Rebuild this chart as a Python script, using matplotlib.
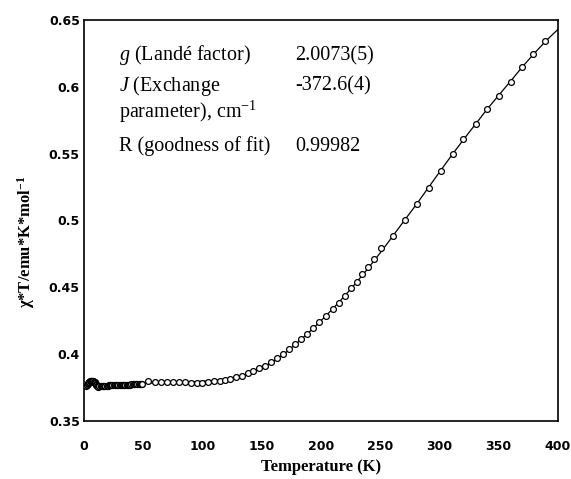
import numpy as np
import matplotlib
matplotlib.use("Agg")
import matplotlib.pyplot as plt

plt.rcParams['mathtext.fontset'] = 'custom'
plt.rcParams['mathtext.rm'] = 'Liberation Serif'
plt.rcParams['mathtext.it'] = 'Liberation Serif:italic'
plt.rcParams['mathtext.bf'] = 'Liberation Serif:bold'

# measured chi*T (dense low-temperature block)
t_low = [2, 2.5, 3, 3.5, 4, 4.5, 5, 5.5, 6, 6.5, 7, 7.5, 8, 8.5, 9, 9.5, 10,
         10.5, 11, 11.5, 12, 13, 14, 15, 16, 17, 18, 19, 20, 21, 22, 23, 24,
         25, 26, 27, 28, 29, 30, 31, 32, 33, 34, 35, 36, 37, 38, 39, 40, 41,
         42, 43, 44, 45, 46, 47, 48, 49]
chi_low = [0.3760, 0.3768, 0.3775, 0.3783, 0.3790, 0.3794, 0.3797, 0.3799,
           0.3800, 0.3801, 0.3800, 0.3799, 0.3797, 0.3794, 0.3790, 0.3783,
           0.3775, 0.3768, 0.3762, 0.3759, 0.3758, 0.3760, 0.3760, 0.3762,
           0.3763, 0.3764, 0.3764, 0.3765, 0.3765, 0.3766, 0.3766, 0.3767,
           0.3767, 0.3768, 0.3768, 0.3769, 0.3769, 0.3770, 0.3770, 0.3770,
           0.3771, 0.3771, 0.3772, 0.3772, 0.3772, 0.3772, 0.3773, 0.3773,
           0.3774, 0.3774, 0.3775, 0.3775, 0.3775, 0.3775, 0.3776, 0.3776,
           0.3777, 0.3778]

# measured chi*T (sparser points above 50 K)
t_high = [54, 60, 65, 70, 75, 80, 85, 90, 95, 100, 105, 110, 115, 119,
          123, 128, 133, 138, 143, 148, 153, 158, 163, 168, 173, 178, 183,
          188, 193, 198, 204, 210, 215, 220, 225, 230, 235, 240, 245,
          251, 261, 271, 281, 291, 301, 311, 320, 331, 340, 350, 360, 370,
          379, 389]
chi_high = [0.3800, 0.3790, 0.3790, 0.3790, 0.3790, 0.3789, 0.3788, 0.3787,
            0.3787, 0.3786, 0.3790, 0.3796, 0.3802, 0.3810,
            0.3817, 0.3827, 0.3839, 0.3857, 0.3875, 0.3895, 0.3914, 0.3942,
            0.3970, 0.4002, 0.4037, 0.4076, 0.4112, 0.4151, 0.4194, 0.4243,
            0.4288, 0.4338, 0.4385, 0.4438, 0.4493, 0.4542, 0.4600, 0.4650,
            0.4712, 0.4794, 0.4887, 0.5004, 0.5121, 0.5246, 0.5373, 0.5496,
            0.5610, 0.5722, 0.5832, 0.5934, 0.6038, 0.6151, 0.6243, 0.6341]

# fitted curve
t_fit = [0, 10, 20, 30, 40, 50, 60, 70, 80, 90, 100, 110, 120, 130, 140,
         150, 160, 170, 180, 190, 200, 210, 220, 230, 240, 250, 260, 270,
         280, 290, 300, 310, 320, 330, 340, 350, 360, 370, 380, 390, 400]
chi_fit = [0.3765, 0.3770, 0.3772, 0.3775, 0.3778, 0.3782, 0.3785, 0.3788,
           0.3790, 0.3793, 0.3797, 0.3803, 0.3812, 0.3830, 0.3858, 0.3895,
           0.3945, 0.4010, 0.4085, 0.4165, 0.4250, 0.4340, 0.4436, 0.4538,
           0.4645, 0.4758, 0.4876, 0.4996, 0.5114, 0.5238, 0.5362, 0.5484,
           0.5602, 0.5716, 0.5830, 0.5937, 0.6042, 0.6150, 0.6250, 0.6345,
           0.6430]

fit_rows = [("$\\it{g}$ (Landé factor)", "2.0073(5)"),
            ("$\\it{J}$ (Exchange", "-372.6(4)"),
            ("parameter), cm$^{-1}$", ""),
            ("R (goodness of fit)", "0.99982")]
row_y = [0.900, 0.823, 0.757, 0.674]

fig = plt.figure(figsize=(5.71, 4.79), dpi=100)
ax = fig.add_axes([0.1471, 0.1211, 0.8301, 0.8372])

ax.plot(t_fit, chi_fit, color='black', lw=0.9, zorder=2)
ax.plot(t_low, chi_low, 'o', ms=4.2, mfc='white', mec='black', mew=1.0,
        zorder=3)
ax.plot(t_high, chi_high, 'o', ms=4.2, mfc='white', mec='black', mew=0.9,
        zorder=3)

ax.set_xlim(0, 400)
ax.set_ylim(0.35, 0.65)
ax.set_xticks(np.arange(0, 401, 50))
ax.set_yticks([0.35, 0.4, 0.45, 0.5, 0.55, 0.6, 0.65])
ax.set_yticklabels(['0.35', '0.4', '0.45', '0.5', '0.55', '0.6', '0.65'])
ax.tick_params(length=0, labelsize=9)
ax.tick_params(axis='x', pad=14)
ax.tick_params(axis='y', pad=3)
for lab in ax.get_xticklabels() + ax.get_yticklabels():
    lab.set_fontweight('bold')
for sp in ax.spines.values():
    sp.set_linewidth(1.2)

for (left, right), y in zip(fit_rows, row_y):
    ax.text(0.0738, y, left, transform=ax.transAxes, family='Liberation Serif',
            fontsize=14.5, va='baseline')
    ax.text(0.445, y, right, transform=ax.transAxes, family='Liberation Serif',
            fontsize=14.5, va='baseline')

fig.text(0.562, 0.025, 'Temperature (K)', family='Liberation Serif',
         fontweight='bold', fontsize=12, ha='center', va='center')
fig.text(0.045, 0.495, 'χ*T/emu*K*mol$^{\\mathbf{-1}}$', family='Liberation Serif',
         fontweight='bold', fontsize=12, rotation=90, ha='center', va='center')

fig.savefig('out.png', dpi=100)
